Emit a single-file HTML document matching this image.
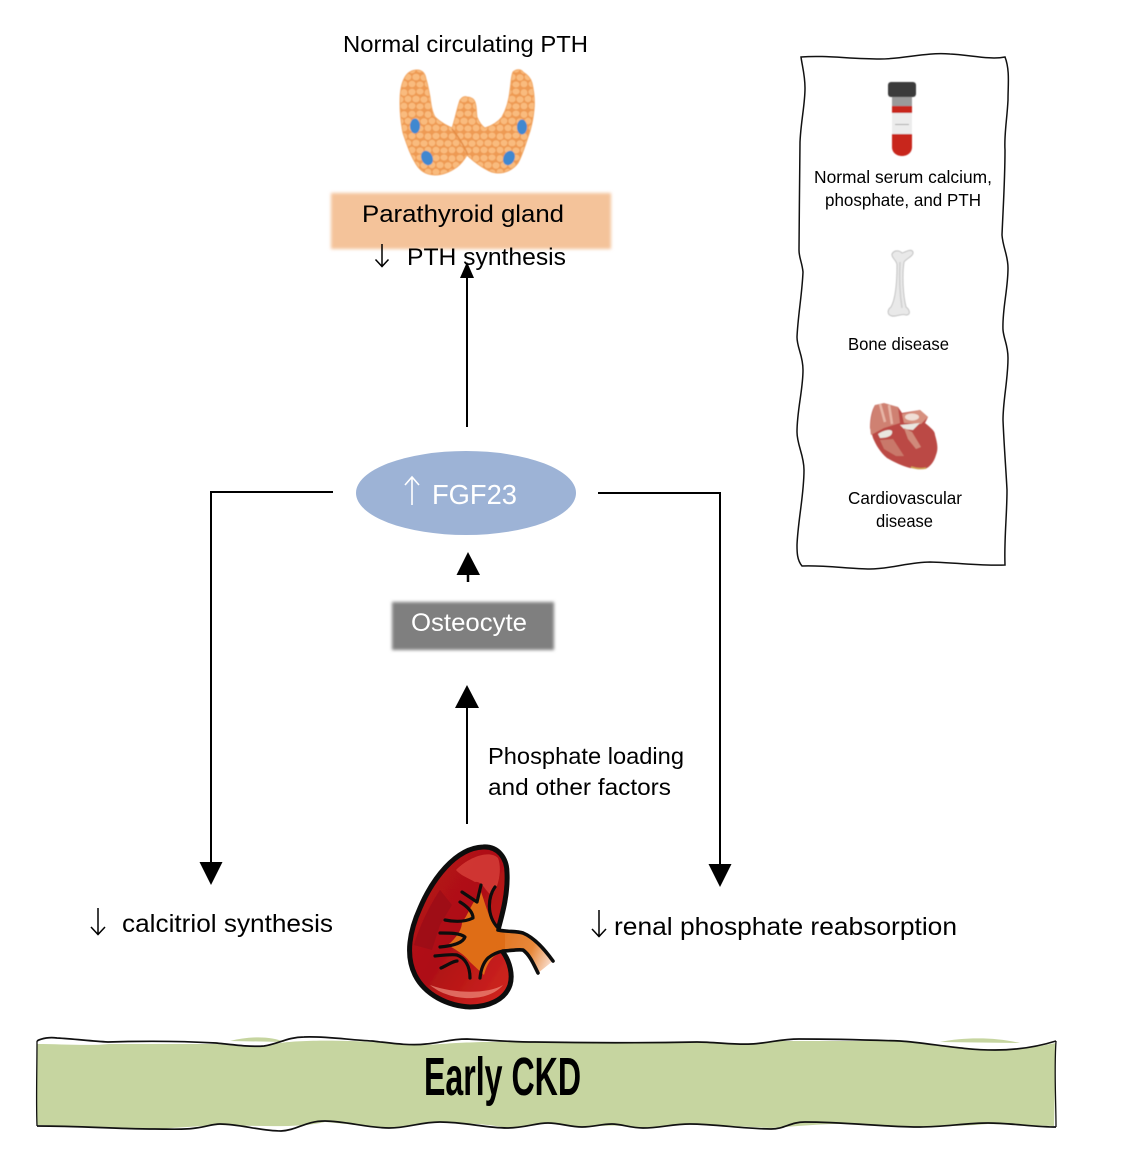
<!DOCTYPE html>
<html><head><meta charset="utf-8"><style>
html,body{margin:0;padding:0;background:#fff}
svg{display:block}
text{font-family:"Liberation Sans",sans-serif;fill:#000}
</style></head><body>
<svg width="1133" height="1153" viewBox="0 0 1133 1153" xmlns="http://www.w3.org/2000/svg">
<defs>
<filter id="b1" x="-10%" y="-20%" width="120%" height="140%"><feGaussianBlur stdDeviation="1.600"/></filter>
<filter id="b2" x="-10%" y="-10%" width="120%" height="120%"><feGaussianBlur stdDeviation="0.600"/></filter>
<filter id="b3" x="-10%" y="-10%" width="120%" height="120%"><feGaussianBlur stdDeviation="0.350"/></filter>
<pattern id="cells" width="24" height="22" patternUnits="userSpaceOnUse">
<rect width="24" height="22" fill="#ee9a52"/>
<g fill="#f9bb7e">
<ellipse cx="4" cy="4" rx="3.600" ry="3.200"/>
<ellipse cx="12" cy="3.500" rx="3.600" ry="3"/>
<ellipse cx="20" cy="4.500" rx="3.400" ry="3.400"/>
<ellipse cx="0" cy="11" rx="3.400" ry="3.200"/>
<ellipse cx="24" cy="11" rx="3.400" ry="3.200"/>
<ellipse cx="8" cy="11" rx="3.700" ry="3.300"/>
<ellipse cx="16" cy="11.500" rx="3.600" ry="3.200"/>
<ellipse cx="4" cy="18" rx="3.500" ry="3.200"/>
<ellipse cx="12" cy="18.500" rx="3.600" ry="3"/>
<ellipse cx="20" cy="18" rx="3.400" ry="3.300"/>
</g>
</pattern>
<linearGradient id="kid" x1="0" y1="0" x2="1" y2="1"><stop offset="0" stop-color="#b5141a"/><stop offset=".5" stop-color="#ae1015"/><stop offset="1" stop-color="#d4281f"/></linearGradient>
<linearGradient id="uret" gradientUnits="userSpaceOnUse" x1="480" y1="935" x2="550" y2="965"><stop offset="0" stop-color="#df6d18"/><stop offset=".7" stop-color="#e8883a"/><stop offset="1" stop-color="#f8dccb"/></linearGradient>
</defs>

<!-- thyroid -->
<g filter="url(#b2)">
<path d="M417 70C422 70 425 73 426 79C428 85 429 92 430 97C431 105 432 112 435 117C440 122 446 125 452 128C455 120 457 108 460 100C462 97 465 96 467 97C471 97 474 99 475 102C477 108 476 112 477 117C479 122 482 126 485 128C491 126 498 122 502 117C506 110 509 100 510 90C511 84 511 76 513 72C516 69 521 69 523 72C528 75 531 79 532 83C534 92 535 101 534 110C533 120 531 129 528 137C525 146 522 156 518 163C513 170 505 173 498 173C492 173 487 170 482 167C476 163 471 159 467 155C464 160 461 164 457 167C450 172 443 175 435 175C428 175 422 172 418 167C411 157 407 145 403 133C401 123 400 113 400 103C400 92 401 84 405 77C408 72 412 70 417 70Z" fill="url(#cells)" stroke="#f2a866" stroke-width="1"/>
<path d="M452 129C458 136 464 146 468 155" fill="none" stroke="#e48c45" stroke-width="1.500"/>
<ellipse cx="415" cy="126" rx="5" ry="7.500" fill="#3f88d0"/>
<ellipse cx="427" cy="158" rx="5.500" ry="7.500" fill="#3f88d0" transform="rotate(-25 427 158)"/>
<ellipse cx="522" cy="127" rx="5" ry="7.500" fill="#3f88d0"/>
<ellipse cx="509" cy="158" rx="5.500" ry="7.500" fill="#3f88d0" transform="rotate(25 509 158)"/>
</g>

<text x="343" y="52" font-size="23" textLength="245" lengthAdjust="spacingAndGlyphs">Normal circulating PTH</text>

<rect x="331" y="193" width="280" height="56" fill="#f4c39a" filter="url(#b1)"/>
<text x="362" y="222" font-size="24" textLength="202" lengthAdjust="spacingAndGlyphs">Parathyroid gland</text>
<path d="M382 244V266M375.500 259.500L382 266.500L388.500 259.500" fill="none" stroke="#000" stroke-width="1.500"/>
<text x="407" y="265" font-size="24" textLength="159" lengthAdjust="spacingAndGlyphs">PTH synthesis</text>

<!-- top arrow -->
<path d="M467 427V275" stroke="#000" stroke-width="2"/>
<path d="M467 262L474 278H460Z" fill="#000"/>

<!-- FGF23 -->
<ellipse cx="466" cy="493" rx="110" ry="42" fill="#9db3d6"/>
<path d="M412 505V477M405 485L412 477L419 485" fill="none" stroke="#fff" stroke-width="1.600"/>
<text x="432" y="504" font-size="28" textLength="85" lengthAdjust="spacingAndGlyphs" style="fill:#fff">FGF23</text>

<!-- left & right connectors -->
<path d="M333 492H211V865" fill="none" stroke="#000" stroke-width="2"/>
<path d="M199.500 862H222.500L211 885Z" fill="#000"/>
<path d="M598 493H720V867" fill="none" stroke="#000" stroke-width="2"/>
<path d="M708.500 864H731.500L720 887Z" fill="#000"/>

<!-- small arrow -->
<path d="M468 582V570" stroke="#000" stroke-width="2.500"/>
<path d="M468 552L480 575H456.500Z" fill="#000"/>

<!-- Osteocyte -->
<rect x="392" y="602" width="162" height="48" fill="#7f7f7f" filter="url(#b1)"/>
<text x="411" y="631" font-size="25" textLength="116" lengthAdjust="spacingAndGlyphs" style="fill:#fff">Osteocyte</text>

<!-- kidney up arrow -->
<path d="M467 824V705" stroke="#000" stroke-width="2"/>
<path d="M467 685L479 708H455Z" fill="#000"/>

<text x="488" y="764" font-size="23" textLength="196" lengthAdjust="spacingAndGlyphs">Phosphate loading</text>
<text x="488" y="795" font-size="23" textLength="183" lengthAdjust="spacingAndGlyphs">and other factors</text>

<path d="M98 908V934M91 927L98 934.500L105 927" fill="none" stroke="#000" stroke-width="1.500"/>
<text x="122" y="932" font-size="25" textLength="211" lengthAdjust="spacingAndGlyphs">calcitriol synthesis</text>
<path d="M599 910V936M592 929L599 936.500L606 929" fill="none" stroke="#000" stroke-width="1.500"/>
<text x="614" y="935" font-size="25" textLength="343" lengthAdjust="spacingAndGlyphs">renal phosphate reabsorption</text>

<!-- kidney -->
<g filter="url(#b3)">
<path d="M500 932C510 932 517 932 523 933C535 938 545 950 553 961L538 973C534 965 530 955 523 950C516 950 510 951 503 951L480 945Z" fill="url(#uret)"/>
<path d="M483 847C498 846 507 858 507 873C508 893 503 912 498 930C499 940 500 947 503 952C510 962 513 975 510 985C505 1000 488 1007 470 1007C448 1006 425 995 415 975C405 955 410 930 420 908C432 880 455 848 483 847Z" fill="url(#kid)" stroke="#0c0c0c" stroke-width="5" stroke-linejoin="round"/>
<path d="M456 870C470 856 490 850 498 858C502 868 499 885 494 892C488 900 484 880 475 882C468 878 460 875 456 870Z" fill="#e04c40" opacity=".65"/>
<path d="M414 945C420 925 430 905 440 890L452 905L440 925L432 950Z" fill="#8e0b10" opacity=".5"/>
<path d="M430 985C450 1002 488 1003 503 985C488 994 455 994 430 985Z" fill="#ee8d7c" opacity=".7"/>
<path d="M481 892C486 905 488 918 498 929L505 952C495 953 488 960 484 975L470 962C464 954 456 950 448 945C456 938 462 930 462 922C468 916 470 905 481 892Z" fill="#df6d18"/>
<path d="M498 929L505 934L505 951L496 951Z" fill="#df6d18"/>
<g fill="none" stroke="#0c0c0c" stroke-width="3.200" stroke-linecap="round" stroke-linejoin="round">
<path d="M462 892L477 902L481 885"/>
<path d="M495 887C488 897 486 915 498 928"/>
<path d="M460 902C468 907 473 912 473 918C465 922 455 922 445 920"/>
<path d="M440 933C450 933 460 933 465 937C463 943 452 946 440 947"/>
<path d="M435 956C445 955 452 954 457 955C465 958 470 966 470 978"/>
<path d="M441 968C448 965 453 961 457 961"/>
<path d="M480 978C481 968 484 962 488 958C493 954 498 952 503 951"/>
<path d="M498 930C508 932 516 931 523 933C535 938 545 950 553 961" stroke-width="3.600"/>
<path d="M503 951C510 951 517 949 523 950C530 955 534 965 538 973" stroke-width="3.600"/>
</g>
</g>

<!-- Early CKD band -->
<path d="M230 1041C250 1036 270 1036 285 1042ZM940 1042C965 1037 995 1037 1020 1043Z" fill="#c6d5a0"/>
<path d="M37 1044C60 1044 90 1046 109 1044L216 1044C240 1046 264 1047 280 1043C300 1040 340 1040 372 1042L426 1045C445 1044 470 1041 535 1042L697 1042C720 1043 751 1045 780 1041L900 1041C930 1043 960 1048 995 1050C1020 1050 1040 1046 1056 1043L1054 1126L988 1124C950 1127 900 1128 860 1124C830 1123 800 1126 771 1128L690 1124L643 1128C620 1124 600 1126 582 1127L548 1123L507 1128C480 1122 450 1124 440 1122L389 1128L325 1122C300 1128 260 1126 220 1125L155 1129L37 1125Z" fill="#c6d5a0"/>
<path d="M37 1041C42 1038 50 1037 57 1038C75 1039 90 1041 108 1042C140 1041 180 1041 216 1043C235 1045 250 1047 264 1046C278 1044 288 1037 304 1037C325 1036 350 1040 372 1041C390 1043 410 1046 426 1044C440 1043 450 1039 467 1039C490 1040 510 1042 535 1042C590 1043 640 1043 697 1042C715 1042 735 1045 751 1044C770 1043 780 1039 799 1039C830 1039 870 1040 900 1041C930 1043 960 1050 995 1050C1020 1050 1040 1046 1056 1041" fill="none" stroke="#111" stroke-width="1.700"/>
<path d="M1056 1041C1054 1070 1056 1100 1056 1127" fill="none" stroke="#111" stroke-width="1.300"/>
<path d="M37 1126C36 1100 37 1070 37 1041" fill="none" stroke="#111" stroke-width="1.300"/>
<path d="M37 1126C80 1126 120 1129 155 1129C170 1129 185 1130 196 1128C206 1127 212 1124 220 1124C240 1124 260 1131 281 1131C298 1130 305 1121 325 1121C345 1121 368 1128 389 1128C408 1128 420 1122 440 1122C465 1122 485 1128 507 1128C525 1128 535 1123 548 1123C560 1123 570 1127 582 1127C595 1127 600 1124 612 1124C622 1124 630 1128 643 1128C660 1128 672 1124 690 1124C715 1124 745 1129 771 1129C785 1129 790 1122 805 1122C845 1122 885 1127 920 1127C945 1127 965 1123 988 1123C1010 1123 1035 1127 1056 1127" fill="none" stroke="#111" stroke-width="1.700"/>
<text x="424" y="1095" font-size="54" font-weight="700" textLength="157" lengthAdjust="spacingAndGlyphs">Early CKD</text>

<!-- sidebar -->
<path d="M801 57C825 55 850 59 880 59C905 59 925 52 950 54C970 55 990 60 1005 57C1010 70 1008 85 1008 100C1007 120 1004 135 1005 150C1005 180 1003 210 1002 235C1003 248 1008 255 1008 268C1008 290 1002 310 1003 330C1004 340 1008 345 1008 358C1008 380 1003 400 1003 420C1004 445 1006 470 1007 490C1007 515 1004 540 1005 565C985 566 960 563 930 562C910 562 890 569 870 569C850 569 825 565 802 566C797 560 797 552 797 545C798 520 804 495 804 470C804 455 797 445 797 432C797 410 803 390 803 370C803 355 797 348 797 337C798 315 802 295 803 272C802 262 799 258 799 250C799 215 800 175 800 142C801 120 805 105 805 88C805 75 802 65 801 57Z" fill="#fff" stroke="#111" stroke-width="1.500"/>

<!-- tube -->
<g filter="url(#b2)">
<rect x="892" y="96" width="20" height="12" fill="#9a9a9a"/>
<path d="M892 134H912V147C912 153 907 156 902 156C897 156 892 153 892 147Z" fill="#c8261f"/>
<rect x="892" y="113" width="20" height="21" fill="#ececec"/>
<rect x="892" y="106" width="20" height="7" fill="#c8261f"/>
<rect x="895" y="124" width="14" height="1" fill="#aaa"/>
<rect x="888" y="82" width="28" height="15" rx="3" fill="#3a3a3a"/>
</g>

<!-- bone -->
<g filter="url(#b2)">
<path d="M892 254C894 250 899 250 902 253C906 252 911 248 913 252C914 256 907 258 904 262C902 275 903 295 906 307C910 310 911 315 906 315C901 313 897 317 892 316C887 315 887 310 891 307C895 300 897 285 897 265C897 260 891 258 892 254Z" fill="#e9e9e9" stroke="#bdbdbd" stroke-width=".9"/>
<path d="M900 262C899 280 900 295 902 308" fill="none" stroke="#cfcfcf" stroke-width="1.500"/>
</g>

<!-- heart -->
<g filter="url(#b2)">
<path d="M875 405L898 407L902 413L920 410L928 417L925 423C931 428 935 431 935 435C938 445 938 450 936 455C934 462 930 467 925 469L910 468C902 466 894 462 887 458C880 452 876 445 873 438L870 428C870 418 872 410 875 405Z" fill="#bb4a44"/>
<path d="M875 405L884 403L898 407L900 423L884 428L871 435C869 425 872 412 875 405Z" fill="#cf8172"/>
<path d="M880 404L885 422M889 405L892 424" stroke="#e7b5a6" stroke-width="2.500" fill="none"/>
<path d="M902 414L920 410L928 417L921 424L904 423Z" fill="#d7907f"/>
<ellipse cx="912" cy="417" rx="7" ry="3.500" fill="#f0ded6"/>
<path d="M878 434C884 430 890 429 892 431C893 435 889 438 880 438Z" fill="#e9e6e0"/>
<path d="M900 425L920 423L913 430L904 429Z" fill="#e9e6e0"/>
<path d="M904 428L912 432L921 447L916 449L908 439Z" fill="#d08a7a"/>
<path d="M880 440L893 439L904 456L896 456L884 449Z" fill="#c9786b"/>
<path d="M911 467C917 469 922 469 926 468" stroke="#cfa455" stroke-width="1.500" fill="none"/>
</g>

<g font-size="17.500">
<text x="814" y="183" textLength="178" lengthAdjust="spacingAndGlyphs">Normal serum calcium,</text>
<text x="825" y="206" textLength="156" lengthAdjust="spacingAndGlyphs">phosphate, and PTH</text>
<text x="848" y="350" textLength="101" lengthAdjust="spacingAndGlyphs">Bone disease</text>
<text x="848" y="504" textLength="114" lengthAdjust="spacingAndGlyphs">Cardiovascular</text>
<text x="876" y="527" textLength="57" lengthAdjust="spacingAndGlyphs">disease</text>
</g>
</svg>
</body></html>
